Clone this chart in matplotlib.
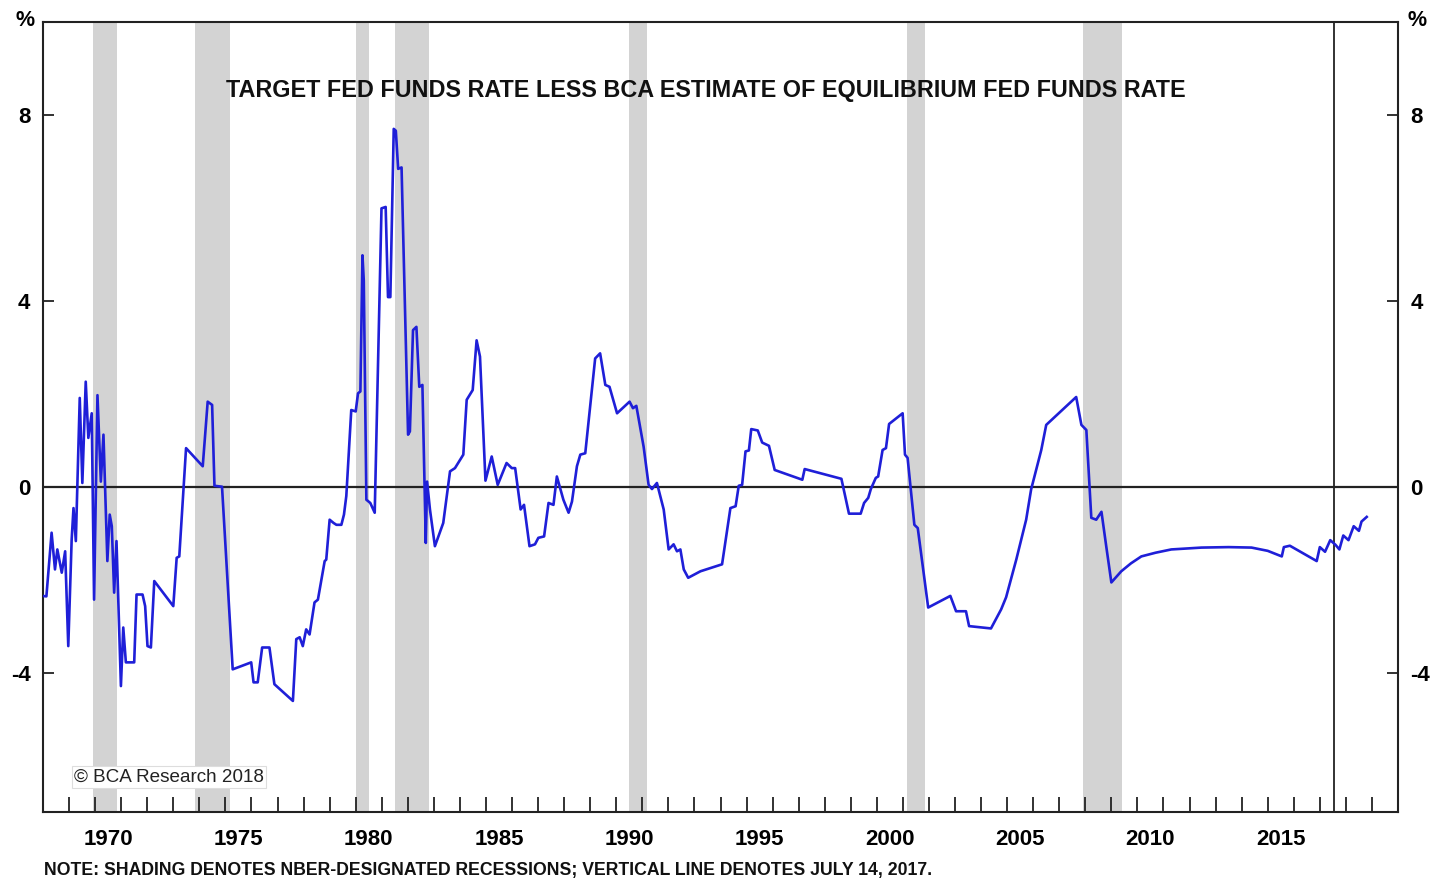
import matplotlib
matplotlib.use("Agg")
import matplotlib.pyplot as plt
from matplotlib.ticker import FixedLocator, NullFormatter, FixedFormatter

plt.rcParams['font.family'] = ['Liberation Sans', 'DejaVu Sans']

# ---- data ----
years = [
    1967.97, 1968.13, 1968.33, 1968.46, 1968.55, 1968.72, 1968.85, 1968.97, 1969.10, 1969.17,
    1969.26, 1969.41, 1969.51, 1969.64, 1969.74, 1969.87, 1969.96, 1970.09, 1970.22, 1970.32,
    1970.47, 1970.56, 1970.64, 1970.73, 1970.82, 1970.99, 1971.08, 1971.18, 1971.50, 1971.59,
    1971.82, 1971.92, 1972.01, 1972.14, 1972.27, 1973.00, 1973.13, 1973.23, 1973.49, 1974.13,
    1974.32, 1974.49, 1974.58, 1974.87, 1975.28, 1975.99, 1976.08, 1976.24, 1976.41, 1976.69,
    1976.88, 1977.59, 1977.72, 1977.85, 1977.97, 1978.10, 1978.23, 1978.42, 1978.55, 1978.81,
    1978.87, 1979.00, 1979.15, 1979.26, 1979.45, 1979.55, 1979.64, 1979.83, 1980.00, 1980.09,
    1980.18, 1980.26, 1980.31, 1980.41, 1980.56, 1980.73, 1980.99, 1981.15, 1981.24, 1981.33,
    1981.46, 1981.54, 1981.63, 1981.76, 1982.01, 1982.08, 1982.20, 1982.33, 1982.44, 1982.56,
    1982.69, 1982.74, 1982.85, 1983.04, 1983.36, 1983.62, 1983.81, 1984.13, 1984.26, 1984.49,
    1984.64, 1984.77, 1984.98, 1985.22, 1985.45, 1985.79, 1985.99, 1986.12, 1986.33, 1986.46,
    1986.67, 1986.88, 1987.01, 1987.23, 1987.40, 1987.59, 1987.72, 1987.97, 1988.17, 1988.30,
    1988.49, 1988.62, 1988.81, 1989.19, 1989.38, 1989.58, 1989.74, 1990.03, 1990.51, 1990.64,
    1990.77, 1991.05, 1991.24, 1991.37, 1991.56, 1991.82, 1992.01, 1992.20, 1992.33, 1992.46,
    1992.59, 1992.76, 1993.23, 1994.06, 1994.38, 1994.58, 1994.70, 1994.83, 1994.96, 1995.09,
    1995.18, 1995.43, 1995.60, 1995.86, 1996.08, 1997.14, 1997.23, 1998.64, 1998.93, 1999.38,
    1999.51, 1999.67, 1999.77, 1999.96, 2000.05, 2000.22, 2000.35, 2000.47, 2000.99, 2001.08,
    2001.18, 2001.44, 2001.57, 2001.97, 2002.82, 2003.04, 2003.42, 2003.54, 2004.38, 2004.77,
    2004.96, 2005.35, 2005.73, 2005.92, 2006.31, 2006.50, 2007.65, 2007.85, 2008.04, 2008.23,
    2008.42, 2008.62, 2008.81, 2009.00, 2009.38, 2009.75, 2010.15, 2010.70, 2011.30, 2012.46,
    2013.50, 2014.38, 2015.00, 2015.54, 2015.62, 2015.85, 2016.88, 2017.00, 2017.20, 2017.40,
    2017.60, 2017.75, 2017.90, 2018.10, 2018.30, 2018.50, 2018.60, 2018.80,
]
values = [
    -2.35, -2.36, -0.99, -1.78, -1.35, -1.85, -1.39, -3.43, -1.14, -0.46,
    -1.17, 1.91, 0.08, 2.26, 1.05, 1.58, -2.43, 1.97, 0.11, 1.12,
    -1.60, -0.60, -0.85, -2.28, -1.17, -4.29, -3.03, -3.78, -3.78, -2.32,
    -2.32, -2.57, -3.43, -3.46, -2.03, -2.57, -1.53, -1.50, 0.83, 0.44,
    1.83, 1.76, 0.02, 0.00, -3.93, -3.78, -4.21, -4.21, -3.46, -3.46,
    -4.25, -4.61, -3.28, -3.24, -3.43, -3.07, -3.18, -2.49, -2.43, -1.60,
    -1.57, -0.71, -0.78, -0.82, -0.82, -0.60, -0.20, 1.65, 1.62, 2.01,
    2.05, 4.98, 4.44, -0.28, -0.35, -0.56, 5.99, 6.02, 4.08, 4.08,
    7.70, 7.66, 6.84, 6.87, 1.12, 1.19, 3.37, 3.44, 2.15, 2.19,
    -1.21, 0.11, -0.49, -1.28, -0.78, 0.33, 0.40, 0.69, 1.87, 2.08,
    3.15, 2.80, 0.13, 0.65, 0.04, 0.51, 0.40, 0.40, -0.49, -0.39,
    -1.28, -1.24, -1.10, -1.07, -0.35, -0.39, 0.22, -0.28, -0.56, -0.32,
    0.44, 0.69, 0.72, 2.76, 2.87, 2.19, 2.15, 1.58, 1.83, 1.69,
    1.74, 0.86, 0.04, -0.05, 0.08, -0.49, -1.35, -1.24, -1.39, -1.35,
    -1.78, -1.96, -1.82, -1.67, -0.46, -0.42, 0.02, 0.04, 0.76, 0.78,
    1.24, 1.21, 0.95, 0.88, 0.36, 0.15, 0.38, 0.17, -0.58, -0.58,
    -0.35, -0.24, -0.05, 0.19, 0.22, 0.79, 0.83, 1.35, 1.58, 0.69,
    0.62, -0.82, -0.89, -2.60, -2.35, -2.68, -2.68, -3.00, -3.05, -2.64,
    -2.38, -1.57, -0.71, -0.06, 0.79, 1.33, 1.93, 1.33, 1.22, -0.67,
    -0.71, -0.54, -1.31, -2.06, -1.82, -1.65, -1.50, -1.42, -1.35, -1.31,
    -1.30, -1.31, -1.38, -1.50, -1.30, -1.27, -1.60, -1.30, -1.40, -1.15,
    -1.25, -1.35, -1.05, -1.15, -0.85, -0.95, -0.75, -0.65,
]

recession_starts = [1969.92, 1973.83, 1980.00, 1981.50, 1990.50, 2001.17, 2007.92]
recession_ends = [1970.83, 1975.17, 1980.50, 1982.83, 1991.17, 2001.83, 2009.42]

vline_date = 2017.53  # July 14, 2017

year_ticks = list(range(1969, 2020))
label_years = [1970, 1975, 1980, 1985, 1990, 1995, 2000, 2005, 2010, 2015]
y_ticks = [-4, 0, 4, 8]
y_tick_labels = ['-4', '0', '4', '8']

title = "TARGET FED FUNDS RATE LESS BCA ESTIMATE OF EQUILIBRIUM FED FUNDS RATE"
note = "NOTE: SHADING DENOTES NBER-DESIGNATED RECESSIONS; VERTICAL LINE DENOTES JULY 14, 2017."

# ---- figure ----
fig = plt.figure(figsize=(14.31, 8.82), dpi=100)
ax = fig.add_axes([43 / 1431, 1 - 812 / 882, (1398 - 43) / 1431, (812 - 22) / 882])

ax.set_xlim(1968, 2020)
ax.set_ylim(-7, 10)

for s, e in zip(recession_starts, recession_ends):
    ax.axvspan(s, e, color='#d3d3d3', lw=0, zorder=0)

ax.axhline(0, color='#222222', lw=1.6, zorder=1)
ax.axvline(vline_date, color='#222222', lw=1.3, zorder=1)

ax.plot(years, values, color='#1f1fd8', lw=1.9, zorder=3)

# ticks
ax.xaxis.set_major_locator(FixedLocator(year_ticks))
ax.xaxis.set_major_formatter(NullFormatter())
ax.xaxis.set_minor_locator(FixedLocator([y + 0.5 for y in label_years]))
ax.xaxis.set_minor_formatter(FixedFormatter([str(y) for y in label_years]))
ax.tick_params(axis='x', which='major', direction='in', length=11, width=1.3, color='#222222')
ax.tick_params(axis='x', which='minor', length=0, pad=12, labelsize=16)
for lab in ax.xaxis.get_minorticklabels():
    lab.set_fontweight('bold')

ax.set_yticks(y_ticks)
ax.set_yticklabels(y_tick_labels)
ax.tick_params(axis='y', which='major', direction='in', length=8, width=1.3, color='#222222',
               left=True, right=True, labelleft=True, labelright=True, labelsize=16, pad=9)
for t in ax.yaxis.get_major_ticks():
    t.label1.set_fontweight('bold')
    t.label2.set_fontweight('bold')

for sp in ax.spines.values():
    sp.set_linewidth(1.5)
    sp.set_color('#222222')

# texts
ax.text((706 - 43) / 1355, (812 - 91) / 790, title, transform=ax.transAxes,
        ha='center', va='center', fontsize=16.8, fontweight='bold', color='#111111')

ax.text(0.023, 0.0445, "\u00a9 BCA Research 2018", transform=ax.transAxes,
        ha='left', va='center', fontsize=13.6, color='#222222', zorder=4,
        bbox=dict(boxstyle='square,pad=0.12', facecolor='white', edgecolor='#dddddd', lw=0.8))

fig.text(25 / 1431, 1 - 20 / 882, "%", ha='center', va='center', fontsize=15.5, fontweight='bold')
fig.text(1417 / 1431, 1 - 20 / 882, "%", ha='center', va='center', fontsize=15.5, fontweight='bold')

fig.text(44 / 1431, 1 - 871 / 882, note, ha='left', va='center', fontsize=12.7, fontweight='bold',
         color='#111111')

fig.savefig("out.png", dpi=100)
